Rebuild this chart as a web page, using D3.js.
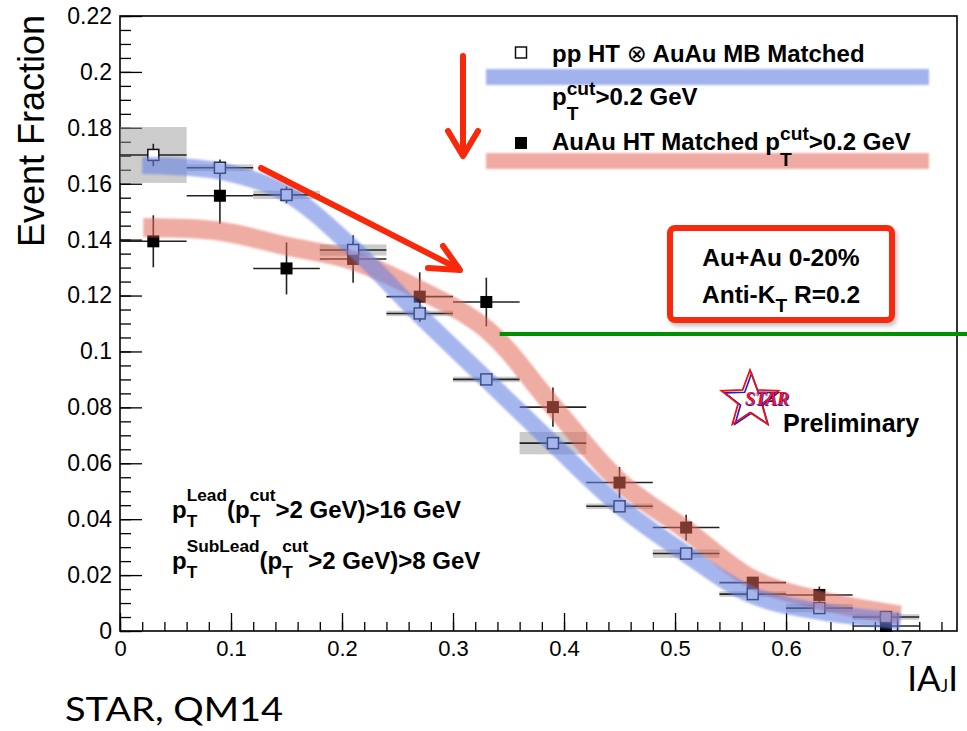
<!DOCTYPE html>
<html><head><meta charset="utf-8">
<script src="https://cdn.jsdelivr.net/npm/d3@7"></script>
<style>body{margin:0;background:#fff}svg{display:block}text{white-space:pre}</style>
</head><body>
<svg id="c" width="967" height="731"></svg>
<script>
// ---------- data ----------
const binCenters = [0.03,0.09,0.15,0.21,0.27,0.33,0.39,0.45,0.51,0.57,0.63,0.69];
const binHalfWidth = 0.03;
const ppValues = [0.1703,0.1657,0.1560,0.1363,0.1136,0.0900,0.0672,0.0446,0.0277,0.0132,0.0082,0.0050];
const ppStat   = [0.004,0.003,0.003,0.003,0.003,0.002,0.002,0.0015,0.001,0.001,0.001,0.001];
const ppSys    = [0.010,0.0012,0.0015,0.002,0.001,0.001,0.004,0.001,0.0015,0.001,0.0015,0.001];
const auValues = [0.1394,0.1557,0.1297,0.1331,0.1196,0.1177,0.0801,0.0531,0.0370,0.0173,0.0129,0.0018];
const auStat   = [0.0093,0.0100,0.0093,0.0085,0.0087,0.0087,0.0070,0.0056,0.0046,0.0020,0.0030,0.0020];
const blueBandX = [0.020,0.09,0.15,0.21,0.27,0.33,0.39,0.45,0.51,0.57,0.63,0.703];
const blueBandY = [0.1665,0.1645,0.1565,0.1370,0.1130,0.0900,0.0670,0.0447,0.0275,0.0127,0.0070,0.0035];
const redBandX  = [0.021,0.09,0.15,0.21,0.27,0.33,0.39,0.45,0.51,0.57,0.63,0.703];
const redBandY  = [0.1443,0.1430,0.1377,0.1325,0.1220,0.1080,0.0805,0.0535,0.0362,0.0185,0.0110,0.0057];
const yMajorTicks = d3.range(0, 0.2201, 0.02).map(v => +v.toFixed(3));
const yMinorTicks = d3.range(0, 0.2201, 0.005).map(v => +v.toFixed(3));
const xMajorTicks = [0,0.1,0.2,0.3,0.4,0.5,0.6,0.7];
const xMinorTicks = d3.range(0, 0.7501, 0.02).map(v => +v.toFixed(2));
const greenLine = {x0: 0.342, y: 0.1062};

// ---------- setup ----------
const svg = d3.select("#c");
const x = d3.scaleLinear().domain([0,0.754]).range([120,957]);
const y = d3.scaleLinear().domain([0,0.22]).range([631,16]);
const SANS = "'Liberation Sans', Arial, Helvetica, sans-serif";
const RED = "#f8290b";

const defs = svg.append("defs");
const bl = defs.append("filter").attr("id","soft").attr("x","-5%").attr("y","-20%").attr("width","110%").attr("height","140%");
bl.append("feGaussianBlur").attr("stdDeviation",0.9);
const sh = defs.append("filter").attr("id","shadow").attr("x","-10%").attr("y","-10%").attr("width","125%").attr("height","130%");
sh.append("feDropShadow").attr("dx",2).attr("dy",3).attr("stdDeviation",2).attr("flood-color","#000").attr("flood-opacity",0.25);

// ---------- axes ----------
const fmt = d => d === 0 ? "0" : String(+d.toFixed(2));
const yAxMinor = svg.append("g").attr("transform","translate(120,0)")
  .call(d3.axisLeft(y).tickValues(yMinorTicks).tickSize(-11).tickFormat(""));
const yAx = svg.append("g").attr("transform","translate(120,0)")
  .call(d3.axisLeft(y).tickValues(yMajorTicks).tickSize(-22).tickPadding(8).tickFormat(fmt));
const xAxMinor = svg.append("g").attr("transform","translate(0,631)")
  .call(d3.axisBottom(x).tickValues(xMinorTicks).tickSize(-9).tickFormat(""));
const xAx = svg.append("g").attr("transform","translate(0,631)")
  .call(d3.axisBottom(x).tickValues(xMajorTicks).tickSize(-18).tickPadding(9).tickFormat(fmt));
[yAxMinor,yAx,xAxMinor,xAx].forEach(a => {
  a.select(".domain").remove();
  a.selectAll("line").attr("stroke","#000").attr("stroke-width",1.3);
  a.selectAll("text").attr("font-family",SANS).attr("font-size",22).attr("fill","#000");
});
yAx.selectAll("text").attr("font-size",23);
svg.append("rect").attr("x",120).attr("y",16).attr("width",837).attr("height",615)
  .attr("fill","none").attr("stroke","#000").attr("stroke-width",1.6);

// ---------- data marks ----------
const pp = binCenters.map((c,i)=>({c, v:ppValues[i], e:ppStat[i], s:ppSys[i]}));
const au = binCenters.map((c,i)=>({c, v:auValues[i], e:auStat[i]}));

svg.append("g").selectAll("rect").data(pp).join("rect")
  .attr("x", d=>x(d.c-binHalfWidth)).attr("width", d=>x(d.c+binHalfWidth)-x(d.c-binHalfWidth))
  .attr("y", d=>y(d.v+d.s)).attr("height", d=>y(d.v-d.s)-y(d.v+d.s))
  .attr("fill","#9a9a9a").attr("opacity",0.5);

function errBars(data){
  const g = svg.append("g").attr("stroke","#222").attr("stroke-width",1.6);
  g.selectAll(".h").data(data).join("line")
    .attr("x1",d=>x(d.c-binHalfWidth)).attr("x2",d=>x(d.c+binHalfWidth))
    .attr("y1",d=>y(d.v)).attr("y2",d=>y(d.v));
  g.selectAll(".v").data(data).join("line")
    .attr("x1",d=>x(d.c)).attr("x2",d=>x(d.c))
    .attr("y1",d=>y(d.v-d.e)).attr("y2",d=>y(d.v+d.e));
}
errBars(au); errBars(pp);

const ms = 12;
svg.append("g").selectAll("rect").data(au).join("rect")
  .attr("x",d=>x(d.c)-ms/2).attr("y",d=>y(d.v)-ms/2).attr("width",ms).attr("height",ms).attr("fill","#000");
svg.append("g").selectAll("rect").data(pp).join("rect")
  .attr("x",d=>x(d.c)-5.5).attr("y",d=>y(d.v)-5.5).attr("width",11).attr("height",11)
  .attr("fill","#fff").attr("stroke","#111").attr("stroke-width",1.5);

// ---------- bands ----------
const bandLine = d3.line().x(d=>x(d[0])).y(d=>y(d[1])).curve(d3.curveCatmullRom.alpha(0.5));
svg.append("path").datum(redBandX.map((v,i)=>[v,redBandY[i]])).attr("d",bandLine)
  .attr("fill","none").attr("stroke","rgb(226,104,88)").attr("stroke-opacity",0.55)
  .attr("stroke-width",19).attr("filter","url(#soft)");
svg.append("path").datum(blueBandX.map((v,i)=>[v,blueBandY[i]])).attr("d",bandLine)
  .attr("fill","none").attr("stroke","rgb(100,128,226)").attr("stroke-opacity",0.58)
  .attr("stroke-width",17).attr("filter","url(#soft)");

// ---------- rich text helper ----------
function rich(x0, y0, size, parts, o){
  o = Object.assign({small:0.8, supDy:0.42, subDy:0.65, anchor:"start", weight:"bold", family:SANS}, o||{});
  const g = svg.append("g").attr("font-family",o.family).attr("font-weight",o.weight).attr("fill","#000");
  let cx = 0;
  parts.forEach(p=>{
    if (typeof p === "string"){
      const t = g.append("text").attr("x",cx).attr("y",0).attr("font-size",size).text(p);
      cx += t.node().getComputedTextLength();
    } else if (p.t !== undefined){
      const t = g.append("text").attr("x",cx).attr("y",0).attr("font-size",size).text(p.t);
      if (p.family) t.attr("font-family",p.family);
      if (p.weight) t.attr("font-weight",p.weight);
      cx += t.node().getComputedTextLength();
    } else {
      let w = 0;
      if (p.sup){ const t=g.append("text").attr("x",cx).attr("y",-size*o.supDy).attr("font-size",size*o.small).text(p.sup); w=Math.max(w,t.node().getComputedTextLength()); }
      if (p.sub){ const t=g.append("text").attr("x",cx).attr("y",size*o.subDy).attr("font-size",size*o.small).text(p.sub); w=Math.max(w,t.node().getComputedTextLength()); }
      cx += w;
    }
  });
  const shift = o.anchor==="middle" ? -cx/2 : o.anchor==="end" ? -cx : 0;
  g.attr("transform",`translate(${x0+shift},${y0})`);
  return g;
}

// ---------- legend ----------
svg.append("rect").attr("x",486).attr("y",69).attr("width",443).attr("height",16)
  .attr("fill","rgb(100,128,226)").attr("opacity",0.6).attr("filter","url(#soft)");
svg.append("rect").attr("x",486).attr("y",153).attr("width",443).attr("height",16)
  .attr("fill","rgb(226,104,88)").attr("opacity",0.55).attr("filter","url(#soft)");
svg.append("rect").attr("x",515.5).attr("y",47).attr("width",11).attr("height",11)
  .attr("fill","#fff").attr("stroke","#111").attr("stroke-width",1.5);
svg.append("rect").attr("x",515).attr("y",137).attr("width",12).attr("height",12).attr("fill","#000");
rich(552, 62, 24, ["pp HT ", {t:"\u2297", family:"'DejaVu Sans', sans-serif", weight:"normal"}, " AuAu MB Matched"]);
rich(552, 105, 24, ["p", {sub:"T", sup:"cut"}, ">0.2 GeV"], {small:0.8, supDy:0.42, subDy:0.62});
rich(552, 150, 24, ["AuAu HT Matched p", {sub:"T", sup:"cut"}, ">0.2 GeV"], {small:0.8, supDy:0.42, subDy:0.68});

// ---------- annotations ----------
const arrowG = svg.append("g").attr("stroke",RED).attr("stroke-width",6).attr("stroke-linecap","round")
  .attr("stroke-linejoin","round").attr("fill","none");
arrowG.append("line").attr("x1",463).attr("y1",56).attr("x2",463).attr("y2",155);
arrowG.append("polyline").attr("points","448,131 463,156 478,131");
arrowG.append("line").attr("x1",261).attr("y1",168).attr("x2",457).attr("y2",268);
arrowG.append("polyline").attr("points","428,268 460,270 443,246");

svg.append("line").attr("x1",x(greenLine.x0)).attr("x2",967).attr("y1",y(greenLine.y)).attr("y2",y(greenLine.y))
  .attr("stroke","#009000").attr("stroke-width",4);

svg.append("rect").attr("x",670).attr("y",228).attr("width",222).attr("height",92).attr("rx",5)
  .attr("fill","#fff").attr("stroke",RED).attr("stroke-width",6).attr("filter","url(#shadow)");
rich(781, 266, 24.5, ["Au+Au 0-20%"], {anchor:"middle"});
rich(781, 303, 24.5, ["Anti-K", {sub:"T"}, " R=0.2"], {anchor:"middle", small:0.78, subDy:0.38});

function starPts(cx, cy, R, r){
  return d3.range(10).map(i=>{
    const a = -Math.PI/2 + i*Math.PI/5, rr = i%2===0 ? R : r;
    return [cx + rr*Math.cos(a), cy + rr*Math.sin(a)];
  }).map(p=>p.join(",")).join(" ");
}
svg.append("polygon").attr("points",starPts(751.5,401.5,28,11.5)).attr("fill","none").attr("stroke","#1a1adf").attr("stroke-width",1.6);
svg.append("polygon").attr("points",starPts(750,400,30,12.5)).attr("fill","none").attr("stroke","#ee1111").attr("stroke-width",1.8);
svg.append("text").attr("x",746).attr("y",406).attr("font-family","'Liberation Serif','DejaVu Serif',serif")
  .attr("font-style","italic").attr("font-weight","bold").attr("font-size",18).attr("fill","#1a1adf").text("STAR");
svg.append("text").attr("x",745).attr("y",405).attr("font-family","'Liberation Serif','DejaVu Serif',serif")
  .attr("font-style","italic").attr("font-weight","bold").attr("font-size",18).attr("fill","#ee1111").text("STAR");
svg.append("text").attr("x",783).attr("y",432).attr("font-family",SANS).attr("font-weight","bold")
  .attr("font-size",25).attr("fill","#000").text("Preliminary");

rich(172, 518, 24, ["p", {sub:"T", sup:"Lead"}, "(p", {sub:"T", sup:"cut"}, ">2 GeV)>16 GeV"], {small:0.72, supDy:0.72, subDy:0.38});
rich(172, 569, 24, ["p", {sub:"T", sup:"SubLead"}, "(p", {sub:"T", sup:"cut"}, ">2 GeV)>8 GeV"], {small:0.72, supDy:0.72, subDy:0.38});

svg.append("text").attr("transform","translate(44,131) rotate(-90)").attr("text-anchor","middle")
  .attr("font-family",SANS).attr("font-size",36).attr("fill","#000").text("Event Fraction");
rich(958, 691, 35, ["I","A", {sub:"J"}, "I"], {family:"Lato, 'Open Sans', sans-serif", weight:"normal", small:0.5, subDy:0.02, anchor:"end"});
svg.append("text").attr("x",65).attr("y",721).attr("font-family","Lato, 'Open Sans', sans-serif")
  .attr("font-size",33).attr("fill","#000").attr("textLength",218).attr("lengthAdjust","spacingAndGlyphs").text("STAR, QM14");
</script>
</body></html>
